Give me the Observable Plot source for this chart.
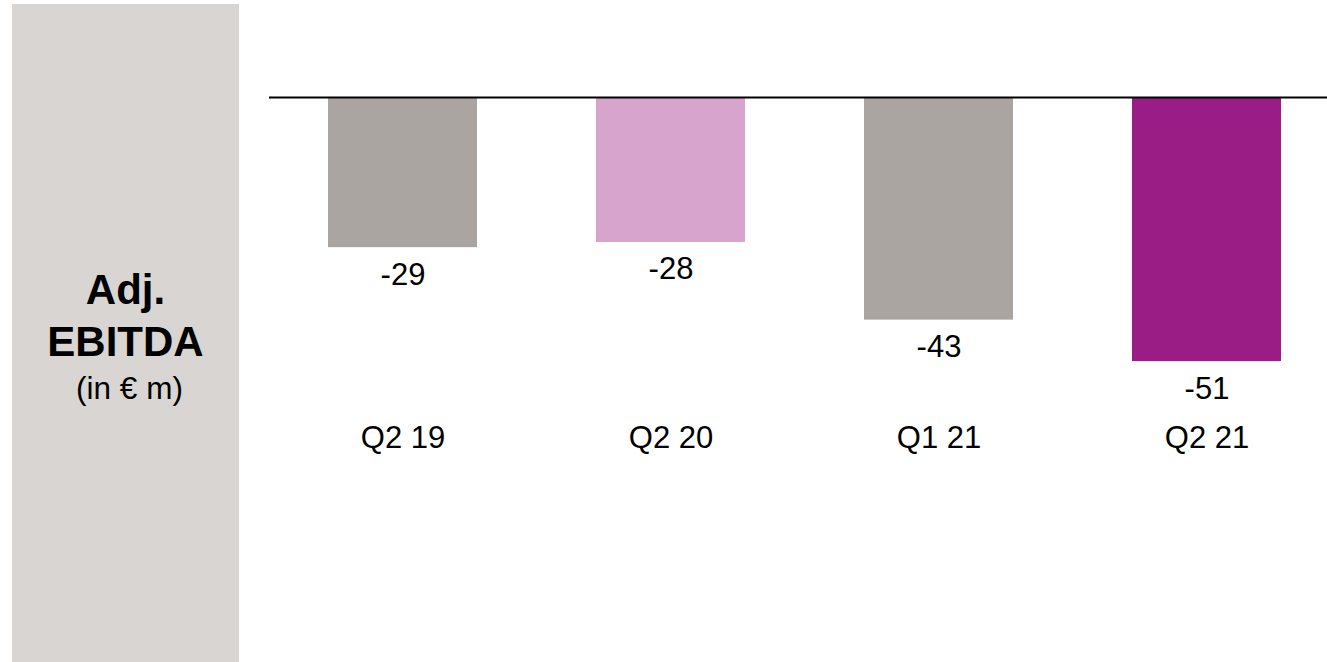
<!DOCTYPE html>
<html>
<head>
<meta charset="utf-8">
<script src="https://cdn.jsdelivr.net/npm/d3@7"></script>
<script src="https://cdn.jsdelivr.net/npm/@observablehq/plot@0.6"></script>
<style>
  html, body { margin: 0; padding: 0; background: #fff; overflow: hidden; }
  #wrap { position: relative; width: 1327px; height: 662px; font-family: "Liberation Sans", Arial, sans-serif; }
  #panel { position: absolute; left: 12px; top: 4px; width: 227px; height: 658px; background: #d9d5d2; }
  #panel .t { position: absolute; left: 0; width: 100%; top: 260px; text-align: center; color: #000; }
  #panel .b { font-weight: bold; font-size: 42px; line-height: 52px; }
  #panel .s { font-size: 31.5px; line-height: 41px; padding-left: 8px; }
  #chart { position: absolute; left: 0; top: 0; }
</style>
</head>
<body>
<div id="wrap">
  <div id="panel">
    <div class="t">
      <div class="b">Adj.</div>
      <div class="b">EBITDA</div>
      <div class="s">(in € m)</div>
    </div>
  </div>
  <div id="chart"></div>
</div>
<script>
const categories = ["Q2 19", "Q2 20", "Q1 21", "Q2 21"];
const values = [-29, -28, -43, -51];
const barColors = ["#aaa5a0", "#d6a4cc", "#aaa5a0", "#9a1c85"];

const data = categories.map((q, i) => ({q, v: values[i]}));

const chart = Plot.plot({
  width: 1327,
  height: 662,
  marginLeft: 269,
  marginRight: 0,
  marginTop: 97,
  marginBottom: 244,
  style: {fontFamily: "'Liberation Sans', Arial, sans-serif", fontSize: "31px", color: "#000", background: "none", overflow: "visible"},
  x: {domain: categories, range: [269, 1341], paddingInner: 0.444, paddingOuter: 0.222, label: null, axis: null},
  y: {domain: [-62, 0], axis: null},
  color: {domain: categories, range: barColors},
  marks: [
    Plot.barY(data, {x: "q", y: "v", fill: "q"}),
    Plot.ruleY([0], {stroke: "#000", strokeWidth: 2}),
    Plot.text(data, {x: "q", y: "v", text: d => String(d.v), lineAnchor: "bottom", dy: 37, fontSize: 31, fill: "#000"}),
    Plot.axisX({tickSize: 0, tickPadding: 7.5, fontSize: 31, label: null, fill: "#000"})
  ]
});
document.getElementById("chart").appendChild(chart);
</script>
</body>
</html>
